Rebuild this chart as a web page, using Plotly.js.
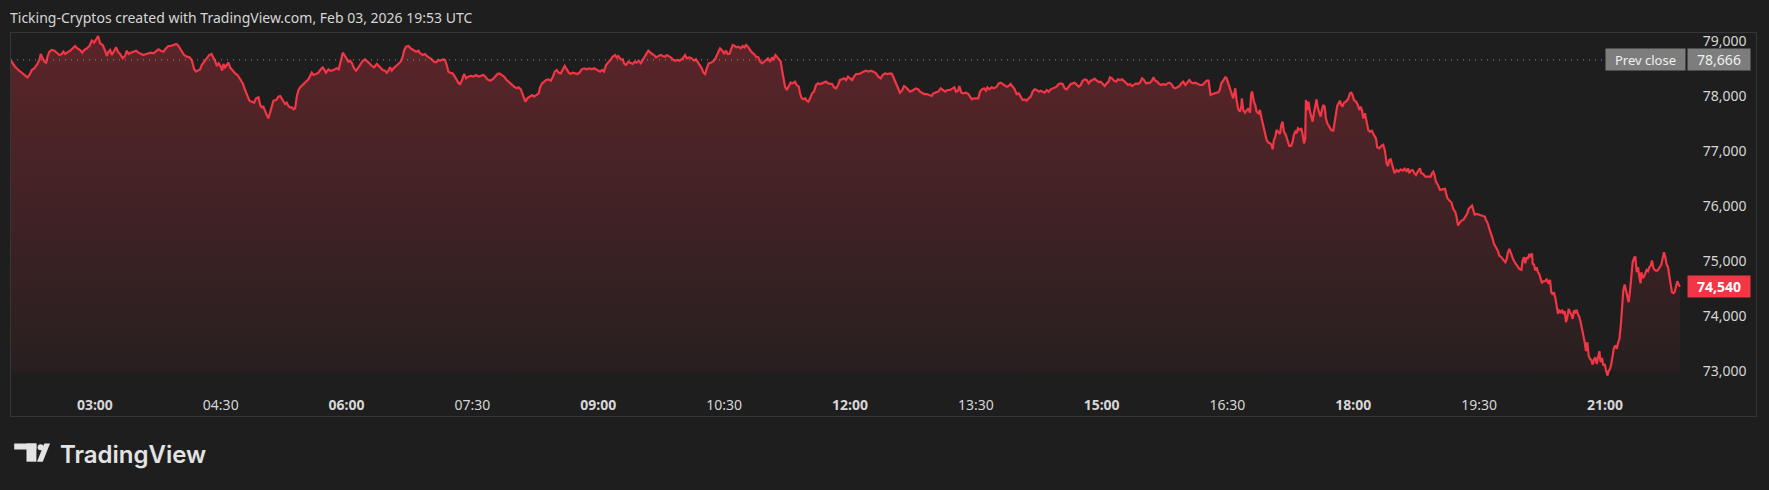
<!DOCTYPE html>
<html><head><meta charset="utf-8">
<script src="https://cdn.plot.ly/plotly-3.0.1.min.js"></script>
<style>html,body{margin:0;padding:0;background:#1e1e1e;}#chart{width:1769px;height:490px;}</style>
</head><body><div id="chart"></div>
<script>
// ---------- DATA ----------
const minutes = [120.0,122.9,125.3,127.7,130.1,131.8,133.2,134.9,136.5,138.4,140.3,141.3,142.7,143.9,145.1,146.1,147.5,149.2,151.1,152.7,154.6,156.3,157.5,158.7,160.4,162.3,164.2,165.8,167.5,169.4,170.9,172.3,174.2,176.1,177.8,179.4,180.9,182.3,183.7,185.6,187.3,188.5,189.7,190.9,192.1,193.7,195.2,196.4,198.0,199.9,201.6,202.8,204.2,205.7,207.6,209.5,211.1,212.8,214.7,216.6,218.3,220.0,221.9,223.8,225.4,227.1,229.0,230.9,232.6,234.3,236.2,238.1,239.3,241.0,242.4,243.8,245.7,247.6,249.3,251.0,252.4,254.1,255.3,256.4,258.1,260.0,261.7,263.4,264.8,266.2,267.2,268.6,270.0,271.0,271.9,273.1,274.3,275.5,276.7,278.6,280.3,282.0,283.9,285.8,287.4,289.1,290.5,292.2,293.9,295.3,297.0,298.2,299.4,300.5,301.7,302.9,304.1,305.3,306.5,307.7,309.6,311.3,312.5,313.7,314.8,316.0,317.2,318.4,319.6,320.8,322.0,323.2,324.4,325.6,327.2,329.2,331.1,332.7,
335.1,336.3,338.2,339.9,341.5,343.0,343.9,345.3,347.0,348.2,349.6,351.1,353.0,354.4,355.8,357.3,358.4,359.6,361.3,362.5,363.9,365.4,366.8,368.5,370.1,371.6,373.2,374.4,376.3,378.0,379.7,381.6,382.8,384.4,385.9,387.5,388.7,389.9,391.1,392.3,393.5,395.4,397.1,398.7,400.2,401.1,402.5,404.2,405.9,407.8,409.7,411.4,412.6,414.5,416.1,417.3,419.2,420.9,422.6,424.0,425.7,426.9,428.8,430.4,431.6,432.8,434.0,435.9,437.4,438.8,440.2,441.2,442.6,444.0,445.5,447.1,448.8,450.7,452.6,454.3,456.0,457.9,459.3,460.7,462.6,464.5,466.2,467.9,469.3,471.0,472.6,474.5,476.5,478.1,479.8,481.7,483.1,484.6,486.0,487.0,487.9,489.3,491.2,492.7,494.1,496.0,497.4,498.4,499.8,501.3,502.7,504.3,506.0,507.4,508.9,510.3,511.7,513.2,514.6,516.0,517.5,518.9,520.3,521.8,523.4,525.1,526.5,528.2,529.9,531.8,533.7,535.3,537.0,538.4,540.1,
541.3,542.7,544.1,545.6,547.2,548.9,550.3,552.0,553.2,554.4,556.1,557.5,558.4,559.9,561.5,563.2,564.6,566.1,567.5,568.9,570.4,571.8,573.2,574.6,575.8,577.0,578.5,579.9,581.3,583.0,584.7,586.1,587.8,589.0,590.4,591.8,593.2,594.9,596.6,598.0,599.7,600.9,602.1,603.3,605.2,606.8,608.5,609.9,611.6,612.8,614.0,615.2,616.4,617.6,619.0,620.4,621.9,623.5,624.7,625.9,627.1,628.3,630.0,631.4,632.3,633.8,635.0,636.2,637.6,639.0,640.2,641.9,643.3,644.5,645.7,647.4,648.6,650.0,651.4,652.8,654.5,655.7,657.1,658.6,660.0,661.4,662.9,664.3,665.2,666.7,668.1,669.5,670.5,671.4,672.4,673.6,674.8,676.2,677.6,679.1,680.7,681.9,683.4,684.3,685.5,686.7,687.9,689.1,690.3,691.5,692.9,694.3,695.8,697.2,698.6,700.0,701.5,702.9,704.3,705.8,707.2,708.6,710.1,711.5,712.9,714.3,715.8,717.2,718.6,720.1,721.5,722.9,724.4,726.0,727.7,729.6,731.5,733.2,734.9,736.8,738.7,740.3,742.0,743.4,745.1,746.8,748.7,750.1,751.5,753.0,754.6,
755.8,757.2,758.7,760.1,761.5,763.0,764.4,765.8,767.2,768.9,770.1,771.5,773.0,774.9,776.8,778.4,779.6,781.5,783.2,784.9,786.3,788.0,789.7,791.6,793.5,794.7,795.9,797.3,798.2,799.7,801.1,803.0,804.7,805.9,807.3,808.7,810.2,811.8,813.0,814.4,815.9,817.3,818.3,819.7,821.4,823.0,824.9,826.4,827.8,829.2,830.7,832.1,833.5,834.9,836.4,837.8,839.2,840.7,842.1,843.5,845.0,846.4,847.8,849.3,850.7,852.1,853.5,855.0,856.4,857.8,859.3,860.7,862.1,863.6,865.0,866.4,867.8,869.3,870.7,872.1,873.6,875.0,876.4,877.9,879.3,880.7,882.2,883.6,885.0,886.4,887.9,889.3,890.7,892.2,893.6,895.0,896.5,897.9,899.3,900.7,902.2,903.6,905.0,906.0,907.4,908.9,910.3,911.7,913.1,914.6,916.0,917.4,918.9,920.3,921.7,923.2,924.6,926.0,927.4,928.9,930.3,931.7,933.2,934.6,936.0,937.0,938.4,939.8,941.3,942.7,944.1,945.6,947.0,948.4,949.9,951.3,952.7,954.1,955.6,957.0,958.4,959.9,961.3,962.7,964.2,965.6,967.0,968.5,970.4,
972.2,973.6,975.1,976.5,977.9,979.4,980.8,982.2,983.7,984.6,985.6,987.0,988.4,989.4,990.6,991.8,993.2,994.1,995.1,995.6,996.5,997.7,998.9,999.9,1000.3,1001.3,1002.5,1003.7,1004.9,1006.1,1007.0,1007.7,1008.9,1009.9,1010.8,1012.3,1013.2,1014.4,1015.6,1016.8,1018.0,1019.2,1020.4,1021.6,1022.3,1023.2,1024.2,1025.1,1026.3,1027.5,1028.5,1029.4,1030.4,1031.8,1032.8,1034.2,1035.6,1036.6,1037.5,1038.5,1039.4,1040.4,1041.8,1042.8,1043.7,1044.7,1045.6,1046.1,1047.1,1048.0,1049.0,1049.9,1050.9,1051.8,1052.8,1053.7,1054.7,1055.7,1056.6,1057.6,1058.5,1059.5,1060.4,1061.4,1062.8,1064.2,1065.7,1066.6,1067.6,1068.5,1069.5,1070.4,1071.4,1072.3,1073.3,1074.7,1076.2,1077.6,1078.5,1079.5,1080.4,1081.9,1083.3,1084.3,1085.2,1086.2,1087.1,1088.3,1089.5,1090.7,1091.9,1093.3,1094.7,1096.2,1097.1,1098.6,1100.0,1101.4,1102.6,1103.8,1104.8,1105.7,1106.7,1107.6,1108.6,1109.5,1111.0,1112.4,1113.8,1115.3,1116.7,1118.1,1119.1,1120.0,1121.0,1122.4,1123.4,1124.8,1125.7,1126.7,1127.6,1128.6,1130.0,1131.5,1132.4,1133.8,1135.3,1136.2,1137.2,1138.1,1139.1,1140.5,1142.0,
1145.6,1147.2,1148.7,1150.1,1151.5,1153.0,1153.9,1154.9,1155.8,1157.3,1158.7,1160.1,1161.6,1162.5,1163.5,1164.9,1165.8,1166.8,1168.2,1169.7,1171.1,1172.5,1174.0,1174.9,1176.3,1177.3,1178.7,1179.7,1180.6,1182.1,1183.5,1184.4,1185.9,1187.3,1188.7,1189.7,1190.6,1191.6,1192.5,1193.5,1194.5,1195.9,1197.3,1198.7,1200.2,1201.1,1202.1,1203.0,1204.0,1204.9,1205.9,1206.8,1207.8,1208.3,1209.2,1210.2,1211.1,1212.1,1213.0,1214.0,1214.9,1215.9,1217.3,1218.3,1219.7,1220.7,1221.6,1222.6,1223.5,1224.5,1225.4,1226.4,1227.3,1228.3,1229.3,1230.2,1231.2,1232.1,1233.1,1234.0,1235.0,1235.9,1236.9,1237.8,1238.8,1239.7,1240.7,1241.7,1242.6,1243.6,1244.5,1245.5,1246.4,1247.4,1248.3,1249.3,1250.2,1251.2,1252.1,1253.1,1254.1,1255.0,1256.0,1256.9,1257.9,1258.8,1259.8,1260.7,1261.7,1262.6,1263.6,1264.5,1265.5,1266.4,1267.4,1268.4,1269.3,1270.3,1271.2,1272.2,1273.1,1274.1,1275.0,1276.0,1276.9,1277.9,1278.8,1279.8,1280.8,1281.7,1282.7,1283.6,1284.6,1285.5,1286.0,1287.0,1287.9,1288.9,1289.8,1290.8,1291.7,1292.7,1293.6,1294.6,1295.5,1296.5,1297.4,1298.4,1299.3,1300.3,1301.3,1302.2,1303.2,1304.1,1305.1,1306.0,1307.0,1307.9,1308.9,1309.8,1310.8,1311.7,1312.7,1313.6];

const prices = [78651,78542,78482,78433,78373,78348,78391,78482,78512,78573,78664,78773,78694,78633,78615,78724,78815,78845,78833,78797,78754,78773,78815,78773,78797,78833,78876,78918,78876,78845,78797,78845,78876,78918,79015,78979,79039,79100,78967,78936,78833,78736,78815,78845,78754,78833,78894,78815,78773,78694,78736,78833,78773,78797,78815,78833,78797,78773,78754,78773,78785,78797,78785,78833,78858,78833,78815,78876,78918,78918,78936,78954,78936,78858,78815,78754,78724,78712,78664,78494,78452,78482,78494,78573,78633,78694,78754,78773,78712,78633,78555,78603,78543,78470,78591,78530,78573,78615,78530,78470,78421,78391,78312,78239,78118,78027,77924,77906,77888,77967,77985,77846,77803,77815,77724,77664,77603,77724,77846,77924,77936,77997,78009,77967,77906,77864,77888,77827,77803,77803,77767,77785,77997,78118,78179,78227,78270,78312,
78433,78391,78409,78433,78494,78530,78494,78433,78494,78470,78470,78494,78512,78494,78633,78797,78754,78694,78633,78651,78603,78512,78470,78530,78591,78651,78676,78651,78603,78555,78530,78591,78555,78512,78482,78470,78433,78470,78530,78470,78512,78555,78591,78633,78724,78833,78906,78918,78876,78845,78815,78833,78785,78754,78773,78736,78712,78676,78633,78621,78664,78651,78676,78664,78573,78452,78433,78421,78361,78300,78239,78227,78300,78409,78330,78361,78373,78361,78391,78361,78373,78391,78361,78312,78288,78312,78361,78409,78421,78391,78361,78300,78252,78209,78179,78149,78167,78130,78027,77936,77906,77967,77997,78027,77997,78027,78058,78167,78239,78270,78300,78312,78288,78349,78452,78482,78433,78421,78494,78555,78494,78433,78409,78433,78421,78409,78433,78494,78512,78494,78512,78494,78512,78494,78470,
78452,78482,78452,78573,78633,78676,78724,78754,78712,78736,78676,78676,78603,78573,78633,78603,78591,78633,78615,78651,78603,78664,78736,78785,78833,78797,78773,78754,78712,78736,78754,78736,78724,78754,78736,78712,78676,78651,78664,78651,78676,78712,78754,78694,78712,78694,78651,78676,78603,78555,78512,78433,78409,78512,78603,78615,78633,78676,78754,78833,78876,78845,78785,78833,78773,78773,78858,78936,78918,78894,78906,78876,78918,78894,78936,78894,78845,78797,78773,78724,78712,78633,78603,78633,78676,78694,78633,78712,78664,78754,78712,78651,78633,78482,78300,78179,78118,78179,78252,78239,78270,78209,78179,78058,77967,77949,77967,77924,77906,77967,78058,78088,78209,78239,78227,78239,78252,78270,78239,78239,78227,78167,78149,78209,78300,78312,78330,78300,78361,78330,78300,78361,78409,78409,78421,78452,78470,78452,78470,78452,78421,78361,78330,78391,78421,78409,78421,78409,78330,78239,78149,
78069,78106,78190,78166,78118,78088,78106,78130,78148,78130,78088,78069,78045,78045,78027,78009,78057,78069,78088,78148,78118,78088,78118,78118,78148,78166,78088,78106,78190,78069,78057,78069,78045,77997,77948,77966,77966,77966,78088,78130,78148,78106,78166,78130,78166,78148,78178,78239,78251,78227,78203,78178,78190,78227,78178,78130,78045,78057,77997,77936,77948,77924,77966,77997,78088,78130,78118,78088,78106,78088,78069,78118,78088,78130,78148,78166,78178,78227,78239,78227,78148,78130,78178,78227,78239,78251,78215,78178,78209,78287,78312,78300,78239,78287,78300,78324,78287,78263,78269,78227,78190,78239,78269,78348,78330,78287,78269,78312,78300,78312,78287,78251,78209,78227,78190,78209,78239,78227,78251,78330,78300,78239,78251,78251,78287,78348,78287,78269,78227,78209,78227,78209,78239,78251,78227,78166,78148,78166,78190,78239,78269,78209,78251,78300,78251,78239,78251,78227,78209,
78209,78252,78288,78288,78028,78046,78058,78070,78082,78131,78240,78288,78349,78331,78240,78149,78058,77967,78088,78149,77937,77767,77725,77816,77967,77755,77707,77743,77785,77707,78058,78088,77907,77846,77725,77694,77755,77604,77452,77301,77210,77161,77149,77119,77040,77210,77270,77391,77361,77319,77482,77543,77361,77301,77210,77101,77101,77179,77301,77361,77331,77422,77391,77422,77319,77149,77222,77937,77755,77907,77725,77634,77543,77694,77846,77949,77785,77694,77634,77755,77846,77816,77604,77513,77452,77391,77379,77513,77725,77828,77876,77925,77846,77816,77888,77907,77949,78058,78070,78028,77937,77907,77846,77755,77816,77755,77604,77694,77543,77391,77361,77379,77301,77240,77076,77058,77101,77119,77016,76785,76737,76846,76858,76785,76713,76604,76664,76634,76676,76652,76688,76634,76694,76604,76652,76664,76616,76573,76616,76664,76694,76604,76591,76543,76543,76555,76543,76604,76634,76573,76452,76392,76301,
76320,76156,76108,76077,75956,75896,75805,75653,75696,75744,75756,75817,75877,75956,75987,76017,75938,75853,75865,75853,75835,75835,75817,75756,75684,75593,75502,75411,75320,75259,75187,75108,75078,75029,74987,75047,75169,75229,75169,75078,75029,74969,74908,74866,74847,75017,75078,74969,75078,75047,75138,75078,75150,74956,74944,74835,74896,74805,74775,74653,74605,74641,74641,74684,74593,74666,74441,74399,74441,74338,74199,74047,74108,74078,74120,74047,74096,73896,73987,74138,74078,74035,73957,74108,74078,74120,74035,73987,73896,73775,73672,73532,73369,73532,73290,73229,73211,73126,73211,73260,73138,73229,73369,73169,73247,73108,73138,73029,72926,73005,73047,73138,73290,73429,73472,73411,73514,73593,73805,74108,74472,74581,74472,74350,74260,74472,74714,74987,75066,75090,74805,74896,74714,74605,74805,74702,74726,74775,74847,74823,74896,74926,75017,74884,74847,74835,74835,74866,74896,74944,75066,75169,75078,74944,74896,74775,74581,74441,74423,74441,74532,74641,74581,74540];

const tickTimes = ['03:00','04:30','06:00','07:30','09:00','10:30','12:00','13:30','15:00','16:30','18:00','19:30','21:00'];
const priceTicks = [73000,74000,75000,76000,77000,78000,79000];
const prevClose = 78666;
const lastPrice = 74540;
const sessionDay = '2026-02-03';
const titleText = 'Ticking-Cryptos created with TradingView.com, Feb 03, 2026 19:53 UTC';
const brandText = 'TradingView';

// ---------- HELPERS ----------
const pad = n => String(n).padStart(2,'0');
function stamp(m){
  const s = Math.round(m*60);
  return sessionDay+' '+pad(Math.floor(s/3600))+':'+pad(Math.floor((s%3600)/60))+':'+pad(s%60);
}
const fmt = v => v.toLocaleString('en-US');

// geometry (pixels)
const W=1769,H=490,L=11,R=1690,T=34,B=389;
const px = X => (X-L)/(R-L);
const py = Y => (B-Y)/(B-T);
// price scale: 1000 per 55 px, 79,000 at y=41.5
const yAt = Y => 79000 - (Y-41.5)/55*1000;
const yTop = yAt(T);
const yBot = yAt(B);
const fillFloor = yAt(371.5);   // area fill ends here (bottom of gradient)

const FONT = '"Noto Sans", "DejaVu Sans", sans-serif';
const TXT = '#d6d6d6';
const RED = '#f23645';

const x = minutes.map(stamp);

const base = {
  type:'scatter', mode:'lines', x:[x[0], x[x.length-1]], y:[fillFloor, fillFloor],
  line:{width:0, color:'rgba(0,0,0,0)'}, hoverinfo:'skip'
};
const trace = {
  type:'scatter', mode:'lines', x:x, y:prices,
  line:{color:RED, width:2.2},
  fill:'tonexty',
  fillgradient:{type:'vertical', start:fillFloor, stop:yTop,
    colorscale:[[0,'rgba(242,54,69,0.045)'],[1,'rgba(242,54,69,0.29)']]},
  hoverinfo:'skip'
};

const ticktext = tickTimes.map(t => (t.endsWith(':00') && parseInt(t,10)%3===0) ? '<b>'+t+'</b>' : t);

const logoCol = '#e3e3e3';
const shapes = [
  {type:'rect', xref:'paper', yref:'paper', x0:px(10.5), x1:px(1756.5), y0:py(416.5), y1:py(32.5),
   line:{color:'#363636', width:1}, fillcolor:'rgba(0,0,0,0)', layer:'below'},
  {type:'line', xref:'paper', yref:'y', x0:0, x1:px(1603), y0:prevClose, y1:prevClose,
   line:{color:'#8f8f8f', width:1, dash:'1px,5px'}},
  {type:'rect', xref:'paper', yref:'paper', x0:px(14.2), x1:px(36.4), y0:py(449.5), y1:py(443.5), line:{width:0}, fillcolor:logoCol},
  {type:'rect', xref:'paper', yref:'paper', x0:px(26.5), x1:px(36.4), y0:py(461.7), y1:py(443.5), line:{width:0}, fillcolor:logoCol},
  {type:'circle', xref:'paper', yref:'paper', x0:px(37.6), x1:px(43.6), y0:py(450.2), y1:py(444.2), line:{width:0}, fillcolor:logoCol},
  {type:'path', xref:'paper', yref:'paper',
   path:'M'+px(44.3)+','+py(443.5)+' L'+px(50)+','+py(443.5)+' L'+px(42.8)+','+py(461.7)+' L'+px(37)+','+py(461.7)+' Z',
   line:{width:0}, fillcolor:logoCol}
];

const annotations = [
  {xref:'paper', yref:'y', x:px(1686), y:prevClose, xanchor:'right', yanchor:'middle',
   text:'Prev close', showarrow:false, bgcolor:'#7d7d7d', width:75, height:17, borderpad:2,
   font:{family:FONT, size:13, color:'#f0f0f0'}},
  {xref:'paper', yref:'y', x:px(1687), y:prevClose, xanchor:'left', yanchor:'middle',
   text:fmt(prevClose), showarrow:false, bgcolor:'#7d7d7d', width:58, height:17, borderpad:2,
   font:{family:FONT, size:14, color:'#f0f0f0'}},
  {xref:'paper', yref:'y', x:px(1687), y:lastPrice, xanchor:'left', yanchor:'middle',
   text:'<b>'+fmt(lastPrice)+'</b>', showarrow:false, bgcolor:RED, width:58, height:17, borderpad:2,
   font:{family:FONT, size:14, color:'#ffffff'}},
  {xref:'paper', yref:'paper', x:px(58), y:py(454), xanchor:'left', yanchor:'middle',
   text:brandText, showarrow:false,
   font:{family:'Inter, "Noto Sans", sans-serif', size:24, weight:600, color:logoCol}}
];

const layout = {
  width:W, height:H,
  paper_bgcolor:'#1e1e1e', plot_bgcolor:'#1e1e1e',
  margin:{l:L, r:W-R, t:T, b:H-B, pad:0},
  showlegend:false,
  hovermode:false,
  title:{text:titleText, xref:'container', yref:'container', x:10/W, y:1-18.5/H,
         xanchor:'left', yanchor:'middle', font:{family:FONT, size:14, color:TXT}},
  xaxis:{type:'date', range:[stamp(120), stamp(1320.8)],
         tickvals:tickTimes.map(t=>sessionDay+' '+t+':00'), ticktext:ticktext,
         ticks:'outside', ticklen:3, tickcolor:'rgba(0,0,0,0)',
         showgrid:false, zeroline:false, showline:false,
         tickfont:{family:FONT, size:14, color:TXT}},
  yaxis:{side:'right', range:[yBot, yTop],
         tickvals:priceTicks, ticktext:priceTicks.map(fmt),
         ticks:'outside', ticklen:9, tickcolor:'rgba(0,0,0,0)',
         showgrid:false, zeroline:false, showline:false,
         tickfont:{family:FONT, size:14, color:TXT}},
  shapes:shapes,
  annotations:annotations
};

Plotly.newPlot('chart', [base, trace], layout, {staticPlot:true, displayModeBar:false});
</script>
</body></html>
